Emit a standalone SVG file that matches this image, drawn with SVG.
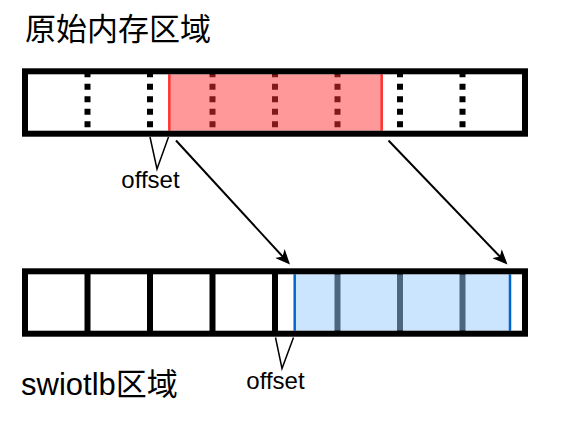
<svg xmlns="http://www.w3.org/2000/svg" width="561" height="424" viewBox="0 0 561 424">
  <style>
    .lbl { font-family: "Liberation Sans", "Noto Sans CJK SC", sans-serif; fill: #000; }
    .title { font-size: 31px; }
    .off { font-size: 24px; text-anchor: middle; }
    .frame { fill: none; stroke: #000; stroke-width: 6; }
    .dot { stroke: #000; stroke-width: 6; stroke-dasharray: 6 6.5; }
    .div { stroke: #000; stroke-width: 6; }
    .conn { fill: none; stroke: #000; stroke-width: 2; }
    .call { fill: none; stroke: #000; stroke-width: 1.5; }
  </style>
  <defs>
    <marker id="arr" markerUnits="userSpaceOnUse" markerWidth="16" markerHeight="13" refX="11" refY="6.5" orient="auto">
      <path d="M0,0 L15,6.5 L0,13 L4,6.5 z" fill="#000"/>
    </marker>
  </defs>
  <rect width="561" height="424" fill="#fff"/>

  <text id="title-orig" class="lbl title" x="25" y="40">原始内存区域</text>
  <text id="title-swiotlb" class="lbl title" x="21" y="395">swiotlb区域</text>

  <g id="orig-region">
    <rect x="25" y="71.3" width="500" height="62.4" fill="#fff"/>
    <line class="dot" x1="87.5" y1="71.3" x2="87.5" y2="133.7"/>
    <line class="dot" x1="150" y1="71.3" x2="150" y2="133.7"/>
    <line class="dot" x1="212.5" y1="71.3" x2="212.5" y2="133.7"/>
    <line class="dot" x1="275" y1="71.3" x2="275" y2="133.7"/>
    <line class="dot" x1="337.5" y1="71.3" x2="337.5" y2="133.7"/>
    <line class="dot" x1="400" y1="71.3" x2="400" y2="133.7"/>
    <line class="dot" x1="462.5" y1="71.3" x2="462.5" y2="133.7"/>
    <rect x="169.3" y="74.3" width="212.4" height="56.4" fill="#ff3333" fill-opacity="0.5"/>
    <line x1="169.3" y1="74.3" x2="169.3" y2="130.7" stroke="#ff3333" stroke-width="2.5"/>
    <line x1="381.7" y1="74.3" x2="381.7" y2="130.7" stroke="#ff3333" stroke-width="2.5"/>
    <rect class="frame" x="25" y="71.3" width="500" height="62.4"/>
  </g>

  <g id="swiotlb-region">
    <rect x="25" y="271.3" width="500" height="62.4" fill="#fff"/>
    <line class="div" x1="87.5" y1="271.3" x2="87.5" y2="333.7"/>
    <line class="div" x1="150" y1="271.3" x2="150" y2="333.7"/>
    <line class="div" x1="212.5" y1="271.3" x2="212.5" y2="333.7"/>
    <line class="div" x1="275" y1="271.3" x2="275" y2="333.7"/>
    <line class="div" x1="337.5" y1="271.3" x2="337.5" y2="333.7"/>
    <line class="div" x1="400" y1="271.3" x2="400" y2="333.7"/>
    <line class="div" x1="462.5" y1="271.3" x2="462.5" y2="333.7"/>
    <rect x="294.7" y="274.3" width="215.3" height="56.4" fill="#99ccff" fill-opacity="0.5"/>
    <line x1="294.7" y1="274.3" x2="294.7" y2="330.7" stroke="#0066cc" stroke-width="2.5"/>
    <line x1="510" y1="274.3" x2="510" y2="330.7" stroke="#0066cc" stroke-width="2.5"/>
    <rect class="frame" x="25" y="271.3" width="500" height="62.4"/>
  </g>

  <g id="offset-top">
    <polyline class="call" points="150,137 157,169 168.5,137"/>
    <text class="lbl off" x="150.5" y="188.3">offset</text>
  </g>
  <g id="offset-bottom">
    <polyline class="call" points="275.5,337.5 282,368.5 293.5,337.5"/>
    <text class="lbl off" x="275.5" y="389.3">offset</text>
  </g>

  <g id="connectors">
    <line class="conn" x1="176" y1="140.5" x2="287.3" y2="261.6" marker-end="url(#arr)"/>
    <line class="conn" x1="388.5" y1="140.5" x2="504.7" y2="261.6" marker-end="url(#arr)"/>
  </g>
</svg>
